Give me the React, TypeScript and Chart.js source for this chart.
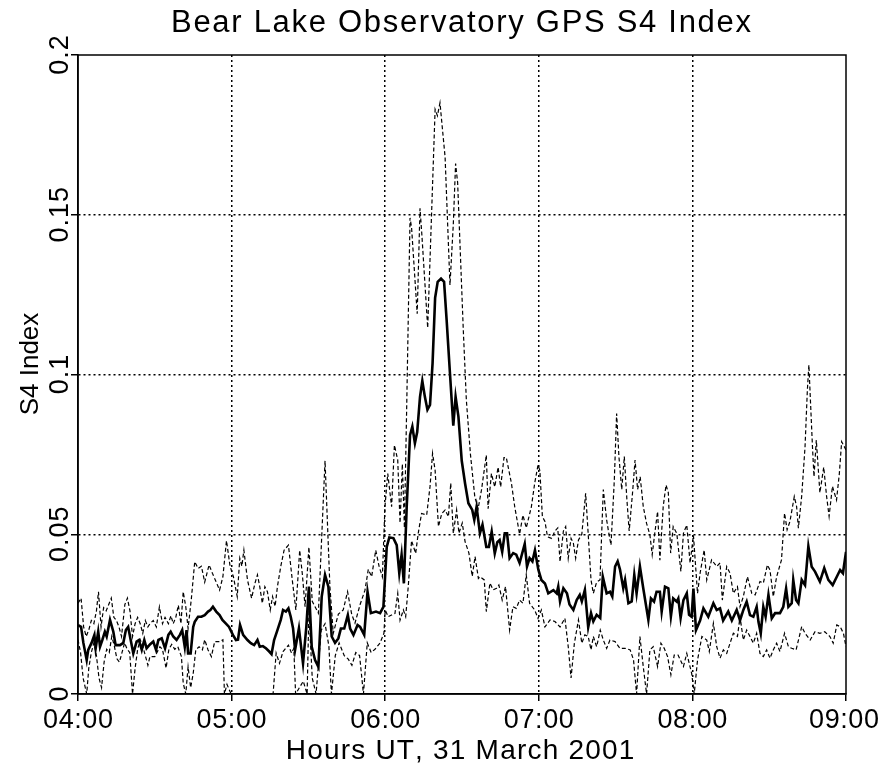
import React, { useEffect, useRef } from "react";
import { Chart, registerables } from "chart.js";

Chart.register(...registerables);

// time in minutes after 04:00 UT, S4 value
const meanSeries: [number, number][] = [
  [0,0.0216],[1.2,0.021],[2.1,0.016],[3.4,0.0106],[4,0.0138],[5.3,0.016],[6.4,0.0185],[6.9,0.0143],[7.9,0.0195],[8.6,0.0148],[9.5,0.0169],[10.5,0.0195],[11.2,0.018],[12.5,0.0232],[13.8,0.0195],[14.7,0.0153],[16.4,0.0153],[17.7,0.016],[18.7,0.020],[19.6,0.021],[20.7,0.0164],[21.6,0.0127],[22.9,0.0164],[23.8,0.0169],[24.9,0.0138],[25.9,0.0169],[26.8,0.0143],[28.1,0.0155],[29.4,0.0164],[30.5,0.0138],[31.4,0.0169],[32.7,0.0174],[34,0.0143],[35.3,0.0185],[36.2,0.0195],[37.2,0.018],[38.5,0.0169],[39.8,0.0185],[40.7,0.020],[41.7,0.0148],[42.4,0.020],[43,0.0127],[44,0.0127],[45,0.021],[45.6,0.0226],[46.9,0.0242],[48.2,0.0242],[49.5,0.0247],[50.8,0.0258],[51.7,0.0263],[52.7,0.0273],[54,0.0258],[55.3,0.0247],[56.4,0.0232],[57.7,0.0221],[59,0.021],[60.5,0.0185],[61.7,0.0169],[62.5,0.017],[63.3,0.0216],[64.5,0.0185],[66.2,0.0169],[67.5,0.0159],[68.8,0.0153],[70.1,0.0169],[71,0.0148],[72.2,0.015],[73.4,0.0143],[74.7,0.0133],[75.6,0.0125],[76.6,0.0169],[77.9,0.02],[79.2,0.0232],[80.1,0.0263],[81.2,0.0258],[82.2,0.0268],[83.1,0.0242],[84,0.0206],[84.8,0.0138],[86.3,0.0206],[87.9,0.0096],[89.2,0.0211],[90.2,0.0336],[91.3,0.0148],[92.6,0.0106],[93.9,0.0085],[95.2,0.0305],[96.5,0.0373],[97.8,0.0336],[99.1,0.018],[100.4,0.016],[101.7,0.0174],[102.7,0.0205],[104,0.0205],[105.4,0.0247],[106.3,0.0205],[107.6,0.0185],[109.2,0.0216],[110.2,0.021],[111.8,0.0185],[113.1,0.032],[114.4,0.0253],[116.4,0.0258],[118,0.0253],[119.3,0.0273],[120.6,0.046],[121.6,0.049],[123.2,0.0488],[124.5,0.0466],[125.5,0.0378],[126.4,0.0436],[127.3,0.0346],[128.4,0.0586],[129.7,0.081],[130.6,0.0837],[131.6,0.0785],[132.5,0.082],[133.6,0.093],[134.5,0.098],[135.5,0.093],[136.5,0.089],[137.5,0.0905],[138.5,0.1035],[139.5,0.124],[140.5,0.129],[141.8,0.13],[143,0.129],[144,0.117],[145.3,0.1003],[146.6,0.084],[147.5,0.093],[148.6,0.0868],[149.9,0.073],[151.2,0.0659],[152.5,0.0597],[154,0.0576],[154.8,0.0545],[155.7,0.0586],[157,0.0503],[158,0.053],[159.5,0.046],[160.5,0.046],[161.6,0.0508],[162.8,0.044],[163.8,0.0475],[164.7,0.0482],[165.7,0.0445],[166.7,0.0503],[167.6,0.0503],[168.6,0.0425],[170,0.0441],[171.2,0.0436],[172.5,0.041],[174.5,0.047],[175.4,0.0399],[176.4,0.0425],[177.5,0.0415],[178.5,0.045],[179.8,0.039],[181,0.0357],[182.4,0.0346],[183.7,0.0315],[185.7,0.0325],[187,0.0315],[187.6,0.0336],[188.3,0.029],[189.6,0.0331],[191,0.0315],[192,0.028],[193.5,0.0263],[194.8,0.0294],[196,0.031],[196.8,0.029],[198,0.0326],[199.3,0.0209],[200.4,0.0253],[201.3,0.0227],[202.6,0.0248],[204,0.0238],[205,0.0367],[206.5,0.0315],[207.8,0.032],[208.7,0.0305],[209.8,0.0399],[210.8,0.0415],[211.7,0.039],[213,0.0331],[213.7,0.0357],[215,0.0284],[216.3,0.029],[217.3,0.0373],[218.2,0.0315],[219.5,0.0399],[220.8,0.0331],[222.8,0.0232],[223.8,0.0299],[225,0.0289],[226,0.032],[227.3,0.032],[228,0.0258],[229.3,0.0336],[230.6,0.0331],[231.6,0.0243],[232.5,0.0299],[233.9,0.0289],[234.5,0.0299],[235.4,0.0238],[236.5,0.0294],[237.8,0.0315],[238.7,0.0248],[239.7,0.0242],[240.4,0.033],[241.4,0.02],[243,0.023],[244.3,0.0268],[246.2,0.0242],[248.2,0.0284],[249.5,0.0263],[250.8,0.0268],[252,0.023],[254,0.0258],[255.4,0.023],[257.3,0.0263],[258.6,0.023],[259.9,0.0263],[261.2,0.0289],[262.5,0.0247],[263.8,0.0242],[265.1,0.0273],[265.8,0.0226],[266.7,0.019],[267.7,0.0273],[268.6,0.0242],[269.7,0.031],[271,0.0237],[272.3,0.0253],[274.2,0.0253],[275.5,0.0273],[276.6,0.033],[277.5,0.0273],[278.8,0.0284],[279.4,0.0357],[280.5,0.0294],[281.4,0.0284],[282.7,0.0357],[284,0.0341],[285.3,0.0462],[286.6,0.0398],[287.9,0.0383],[289.8,0.0352],[291.5,0.0394],[293.1,0.0357],[294.8,0.0341],[296.4,0.0367],[297.7,0.0388],[298.8,0.0378],[300,0.0445]
];

const upperSeries: [number, number][] = [
  [0,0.0284],[1.2,0.03],[2.2,0.021],[3.2,0.018],[4.2,0.02],[5.2,0.023],[6.2,0.022],[7.2,0.026],[8,0.032],[9,0.021],[10,0.027],[11,0.026],[12,0.028],[13,0.03],[14,0.024],[15,0.023],[16,0.021],[17,0.018],[18.3,0.028],[19.3,0.03],[20.3,0.026],[21.3,0.018],[22.3,0.022],[23.3,0.024],[24.3,0.022],[25.3,0.019],[26.3,0.023],[27.3,0.021],[28.1,0.022],[29.4,0.023],[30.6,0.021],[31.8,0.0273],[33,0.022],[34,0.024],[35.3,0.022],[36.3,0.0245],[37.2,0.022],[38.2,0.024],[39.2,0.0278],[40.2,0.022],[41.1,0.032],[42.1,0.0273],[43,0.0205],[44.3,0.03],[45.6,0.0414],[46.9,0.0393],[48.2,0.04],[49.5,0.035],[51.2,0.0404],[52.5,0.0378],[54,0.035],[55.3,0.0325],[56.6,0.0367],[58,0.048],[59.4,0.04],[60.7,0.0367],[62.2,0.0305],[63.2,0.0425],[64,0.04],[64.8,0.045],[66.2,0.0357],[67.8,0.03],[69.1,0.0346],[70.1,0.0373],[71,0.0336],[72,0.0284],[73,0.0336],[74,0.032],[75.1,0.0263],[76,0.0305],[77,0.0274],[77.9,0.0336],[79.2,0.0399],[80.5,0.045],[82.2,0.0466],[83.7,0.0357],[85.1,0.0263],[86.6,0.045],[87.6,0.0378],[88.7,0.0273],[90.2,0.046],[91.5,0.029],[93.9,0.0253],[96.5,0.073],[98.4,0.0336],[99.7,0.019],[101.7,0.025],[103.6,0.0263],[105.3,0.032],[106.9,0.025],[108.2,0.0222],[110.2,0.028],[112.1,0.0325],[113.4,0.039],[114.7,0.0367],[116.3,0.045],[117.6,0.04],[118.9,0.0367],[119.9,0.0586],[121,0.069],[122.5,0.0586],[123.6,0.0779],[124.9,0.0732],[125.8,0.0535],[126.7,0.072],[127.5,0.052],[128.4,0.09],[129.7,0.149],[130.3,0.146],[132.5,0.119],[133.6,0.152],[134.3,0.144],[136.6,0.1146],[139.5,0.183],[140.4,0.181],[141.4,0.185],[143.4,0.168],[145.3,0.128],[146.6,0.147],[147.5,0.166],[148.3,0.16],[150.5,0.114],[151.7,0.092],[153.3,0.075],[155,0.0617],[156.3,0.058],[157.6,0.0638],[159.5,0.0748],[160.2,0.058],[161.5,0.069],[162.8,0.0648],[164.1,0.071],[165.1,0.0648],[166.4,0.074],[167.3,0.074],[169.3,0.066],[170.6,0.0586],[172.5,0.05],[173.8,0.056],[175.1,0.052],[177.1,0.0586],[178.4,0.066],[179.7,0.0717],[180.4,0.07],[181.4,0.0555],[182.4,0.054],[183.4,0.0492],[185,0.0487],[186.3,0.051],[187.4,0.052],[188.3,0.0414],[189.6,0.051],[190.5,0.0524],[191.5,0.0425],[192.6,0.0487],[193.5,0.0472],[194.4,0.0425],[195.5,0.0482],[196.8,0.05],[198.3,0.0628],[199.3,0.05],[200.4,0.0357],[201.3,0.0315],[202.6,0.035],[203.9,0.0357],[205.2,0.064],[206.5,0.0545],[207.2,0.051],[208.2,0.0466],[209.5,0.067],[210.4,0.0878],[211.3,0.0743],[212.4,0.064],[213.4,0.0743],[214.4,0.061],[215.3,0.051],[216.6,0.0628],[217.6,0.0732],[218.6,0.064],[219.6,0.068],[220.8,0.0587],[222.1,0.0534],[223.4,0.0498],[224.3,0.0436],[225.3,0.0503],[226.4,0.0571],[227.3,0.0419],[228.6,0.0587],[229.7,0.0654],[230.6,0.063],[231.5,0.0441],[232.5,0.0524],[233.9,0.0503],[235.5,0.0384],[236.5,0.0503],[237.8,0.0529],[239.1,0.041],[240.4,0.0497],[242,0.0315],[243,0.0378],[244.6,0.0451],[245.6,0.0357],[247.5,0.042],[249.5,0.0399],[250.8,0.041],[251.7,0.0294],[253.4,0.0399],[254.7,0.0378],[256,0.0315],[257.6,0.0336],[258.6,0.0273],[259.9,0.0305],[261.5,0.0367],[263.2,0.0315],[264.5,0.031],[266.4,0.0352],[267.7,0.0347],[269.3,0.0404],[270.3,0.0388],[271.6,0.0305],[272.9,0.0367],[274.8,0.042],[276,0.0566],[277,0.0514],[278.1,0.054],[279.8,0.0618],[280.7,0.0587],[281.4,0.0519],[282.7,0.062],[284,0.0774],[284.9,0.095],[285.5,0.103],[286.1,0.092],[286.9,0.0774],[287.5,0.068],[288.4,0.0795],[289.8,0.063],[291.3,0.071],[292.4,0.062],[293.4,0.0556],[294.7,0.065],[296.3,0.0607],[297.4,0.069],[298.3,0.079],[300,0.0764]
];

const lowerSeries: [number, number][] = [
  [0,0.017],[1,0.013],[2,0.005],[3.4,0],[4.2,0.008],[5.2,0.013],[6.2,0.016],[7.2,0.012],[8.2,0.005],[9.2,0.002],[10.2,0.01],[11.2,0.014],[12.2,0.013],[13.2,0.018],[14.2,0.015],[15.2,0.011],[16.2,0.01],[17.2,0.013],[18.2,0.016],[19.2,0.014],[20.2,0.013],[21.3,0],[22.3,0.008],[23.3,0.014],[24.3,0.017],[25.3,0.015],[26.3,0.012],[27.3,0.009],[28.1,0.0117],[30,0.0117],[32,0.0148],[33,0.014],[34.4,0.0081],[35.5,0.014],[36.6,0.0155],[37.8,0.014],[39,0.0148],[40.4,0.0117],[41.1,0.0034],[42.1,0],[43,0.0085],[44,0.002],[45,0.0064],[46,0.0138],[47.3,0.0148],[48.6,0.0138],[49.5,0.017],[50.8,0.0138],[52.1,0.0117],[53.4,0.0164],[55.3,0.0164],[56.6,0.017],[57.2,0],[58.2,0.003],[59.8,0],[76.2,0],[77.4,0.0128],[78.7,0.0096],[80.1,0.0133],[82.2,0.0153],[83.4,0.0128],[84.3,0.0143],[85,0],[88,0.004],[89.5,0],[90.2,0.026],[91.5,0.005],[93,0],[95,0.02],[96.5,0.022],[98,0.015],[99,0],[100.5,0.012],[102,0.016],[104,0.012],[105.5,0.011],[107,0.009],[108.5,0.013],[110,0.012],[111.5,0],[113,0.016],[114.5,0.013],[116,0.014],[118,0.016],[119.5,0.019],[120,0.0263],[121.2,0.0242],[122.5,0.0247],[123.8,0.0252],[124.9,0.0315],[125.8,0.0231],[127.1,0.0263],[128,0.0242],[129,0.0336],[130.3,0.048],[131.9,0.044],[132.9,0.0503],[134.2,0.0565],[136.2,0.056],[137.5,0.0649],[138.5,0.0753],[139.5,0.07],[140.8,0.0524],[142.1,0.0565],[143.4,0.0576],[144.7,0.0555],[145.6,0.066],[146.6,0.0503],[147.9,0.0576],[148.8,0.0503],[150.1,0.0535],[151.2,0.0477],[152.7,0.0441],[154,0.0368],[155.1,0.043],[156.4,0.0362],[157,0.0367],[158.7,0.0357],[159.5,0.0258],[160.9,0.0347],[162.2,0.0326],[163.5,0.0331],[164.4,0.0341],[165.7,0.0294],[167,0.0336],[168.6,0.02],[169.9,0.0273],[171.2,0.0268],[172.5,0.0294],[173.8,0.0284],[175.1,0.0373],[176.4,0.0284],[178.4,0.0263],[179.7,0.0237],[181,0.0263],[182.4,0.021],[184.4,0.0232],[186.3,0.0227],[188.3,0.021],[190.2,0.0237],[191.5,0.0148],[192.6,0.005],[193.9,0.0159],[195.5,0.0232],[196.8,0.0159],[198,0.0185],[199.3,0.018],[200.4,0.0138],[201.3,0.018],[202.6,0.0148],[204,0.02],[205.2,0.0169],[206.5,0.0143],[207.8,0.0169],[209.8,0.0164],[211.7,0.0143],[213.7,0.0143],[215.7,0.0138],[217,0.0107],[218.2,0],[219.5,0.018],[220.8,0.0086],[222.1,0],[223.4,0.0138],[224.7,0.0148],[226.4,0.0086],[227.7,0.0159],[229,0.0143],[230.3,0.0117],[231.6,0.006],[232.9,0.0122],[234.4,0.0122],[236.5,0.0086],[237.8,0.0127],[239.7,0.0065],[240.7,0],[242,0.0106],[243.7,0.018],[245.6,0.0169],[246.6,0.0133],[248.2,0.0221],[249.5,0.0148],[250.8,0.0112],[252.1,0.0138],[253.4,0.0127],[254.7,0.0159],[256,0.019],[257.6,0.018],[258.6,0.0242],[259.9,0.0169],[261.2,0.02],[262.5,0.018],[263.8,0.0159],[265.1,0.019],[266.4,0.0127],[267.7,0.0117],[269,0.0138],[270.3,0.0112],[271.6,0.0138],[272.9,0.0159],[274.2,0.0133],[276,0.019],[277.5,0.0148],[278.8,0.0143],[280.5,0.0138],[282.7,0.0211],[284,0.019],[286,0.0169],[287.9,0.0195],[289.8,0.019],[291.7,0.0195],[293.7,0.018],[295,0.0159],[296.4,0.0216],[297.7,0.0211],[299,0.019],[300,0.0148]
];

const xTickValues = [0, 60, 120, 180, 240, 300];
const xTickLabels = ["04:00", "05:00", "06:00", "07:00", "08:00", "09:00"];
const yTickValues = [0, 0.05, 0.1, 0.15, 0.2];
const yTickLabels = ["0", "0.05", "0.1", "0.15", "0.2"];
const chartTitle = "Bear Lake Observatory GPS S4 Index";
const xTitle = "Hours UT, 31 March 2001";
const yTitle = "S4 Index";

const FONT = '"Liberation Sans", Arial, Helvetica, sans-serif';

const toPoints = (s: [number, number][]) => s.map(([x, y]) => ({ x, y }));

const drawSpaced = (ctx: any, text: string, x: number, y: number, spacing: number) => {
  // centered text with extra letter spacing
  const chars = Array.from(text);
  const widths = chars.map((c) => ctx.measureText(c).width);
  const total = widths.reduce((a, b) => a + b, 0) + spacing * (chars.length - 1);
  let cx = x - total / 2;
  const prevAlign = ctx.textAlign;
  ctx.textAlign = "left";
  chars.forEach((c, i) => {
    ctx.fillText(c, cx, y);
    cx += widths[i] + spacing;
  });
  ctx.textAlign = prevAlign;
};

const textPlugin = {
  id: "textPlugin",
  afterDraw(chart: any) {
    const { ctx, chartArea, scales } = chart;
    const { left, right, top, bottom } = chartArea;
    const xs = scales.x;
    const ys = scales.y;
    ctx.save();
    ctx.strokeStyle = "#000";
    ctx.lineWidth = 1.5;
    ctx.setLineDash([]);
    ctx.strokeRect(left, top, right - left, bottom - top);
    ctx.fillStyle = "#000";
    ctx.textAlign = "center";
    ctx.textBaseline = "alphabetic";
    ctx.font = `31px ${FONT}`;
    drawSpaced(ctx, chartTitle, 461, 32, 1.7);
    ctx.font = `27px ${FONT}`;
    xTickValues.forEach((v, i) => {
      drawSpaced(ctx, xTickLabels[i], Math.min(xs.getPixelForValue(v), 844), 728, 0.6);
    });
    ctx.font = `28px ${FONT}`;
    drawSpaced(ctx, xTitle, 460, 759, 1.2);
    ctx.font = `27px ${FONT}`;
    yTickValues.forEach((v, i) => {
      ctx.save();
      ctx.translate(68, ys.getPixelForValue(v));
      ctx.rotate(-Math.PI / 2);
      drawSpaced(ctx, yTickLabels[i], 0, 0, 1);
      ctx.restore();
    });
    ctx.font = `26px ${FONT}`;
    ctx.save();
    ctx.translate(38, 364);
    ctx.rotate(-Math.PI / 2);
    drawSpaced(ctx, yTitle, 0, 0, 0);
    ctx.restore();
    ctx.restore();
  },
};

export default function App() {
  const canvasRef = useRef<HTMLCanvasElement | null>(null);
  useEffect(() => {
    const canvas = canvasRef.current;
    if (!canvas) return;
    const gridColor = (c: any) =>
      c.tick && (c.tick.value === c.scale.min || c.tick.value === c.scale.max) ? "rgba(0,0,0,0)" : "#000";
    const chart = new Chart(canvas, {
      type: "line",
      data: {
        datasets: [
          { label: "Mean", data: toPoints(meanSeries), borderColor: "#000", borderWidth: 2.6, pointRadius: 0, tension: 0, fill: false, order: 0 },
          { label: "Upper", data: toPoints(upperSeries), borderColor: "#000", borderWidth: 1.2, borderDash: [4, 2.5], pointRadius: 0, tension: 0, fill: false, order: 1 },
          { label: "Lower", data: toPoints(lowerSeries), borderColor: "#000", borderWidth: 1.2, borderDash: [4, 2.5], pointRadius: 0, tension: 0, fill: false, order: 2 },
        ],
      },
      options: {
        responsive: false,
        animation: false,
        devicePixelRatio: 1,
        layout: { padding: { left: 0, right: 33, top: 55, bottom: 0 } },
        plugins: { legend: { display: false }, tooltip: { enabled: false }, title: { display: false } },
        scales: {
          x: {
            type: "linear",
            min: 0,
            max: 300,
            afterBuildTicks: (s: any) => { s.ticks = xTickValues.map((v) => ({ value: v })); },
            afterFit: (s: any) => { s.height = 69; },
            ticks: { display: false },
            grid: { color: gridColor, lineWidth: 1.5, drawTicks: true, tickLength: 7, tickColor: "#000", tickWidth: 1.5 },
            border: { display: true, color: "#000", width: 1.5, dash: [2, 3] },
          },
          y: {
            type: "linear",
            min: 0,
            max: 0.2,
            afterBuildTicks: (s: any) => { s.ticks = yTickValues.map((v) => ({ value: v })); },
            afterFit: (s: any) => { s.width = 78; },
            ticks: { display: false },
            grid: { color: gridColor, lineWidth: 1.5, drawTicks: true, tickLength: 7, tickColor: "#000", tickWidth: 1.5 },
            border: { display: true, color: "#000", width: 1.5, dash: [2, 3] },
          },
        },
      },
      plugins: [textPlugin],
    } as any);
    return () => chart.destroy();
  }, []);
  return (
    <div style={{ position: "fixed", left: 0, top: 0, width: 879, height: 763, background: "#fff" }}>
      <canvas ref={canvasRef} width={879} height={763} style={{ display: "block" }} />
    </div>
  );
}
